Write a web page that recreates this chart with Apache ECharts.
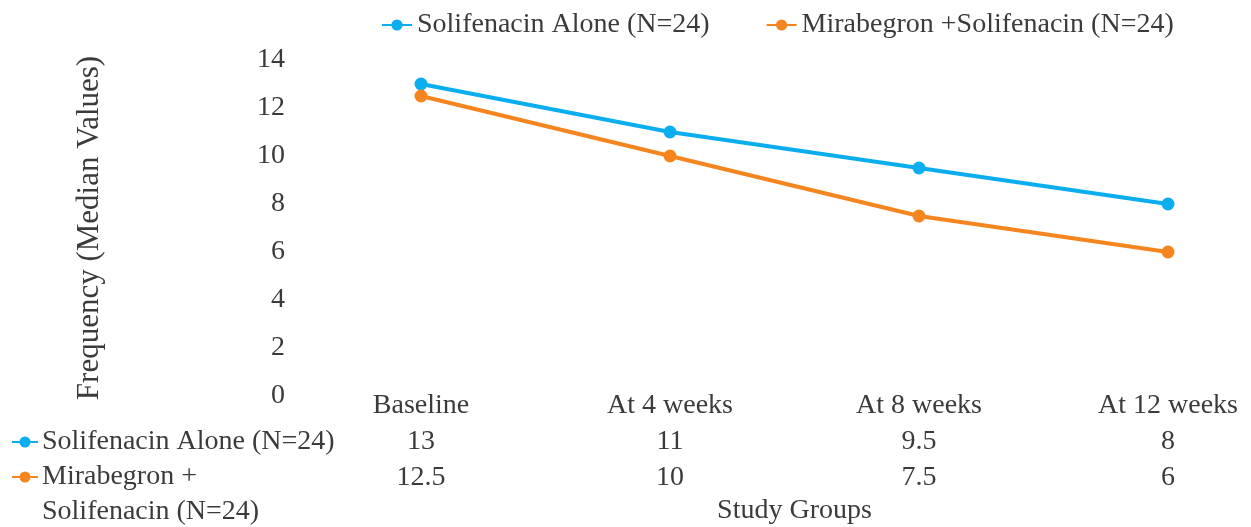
<!DOCTYPE html>
<html>
<head>
<meta charset="utf-8">
<script src="https://cdn.jsdelivr.net/npm/echarts@6/dist/echarts.min.js"></script>
<style>
  html, body { margin: 0; padding: 0; background: #fff; }
  #chart { width: 1251px; height: 527px; }
</style>
</head>
<body>
<div id="chart"></div>
<script>
// Study time points (x categories)
const categories = ['Baseline', 'At 4 weeks', 'At 8 weeks', 'At 12 weeks'];
// Median frequency per group
const soliAlone = [13, 11, 9.5, 8];
const miraSoli = [12.5, 10, 7.5, 6];
// Series names and their labels in the data table
const seriesNames = ['Solifenacin Alone (N=24)', 'Mirabegron +Solifenacin (N=24)'];
const tableRowLabels = [['Solifenacin Alone (N=24)'], ['Mirabegron +', 'Solifenacin (N=24)']];
// Y axis range
const yMin = 0, yMax = 14, yStep = 2;

const FONT = '"Liberation Serif", "DejaVu Serif", serif';
const TEXT = '#3b3b3b';
const BLUE = '#0aaeef';
const ORANGE = '#f5861f';
const colors = [BLUE, ORANGE];

const chart = echarts.init(document.getElementById('chart'), null, { renderer: 'canvas' });

// Row headers of the data table: legend key + wrapped label
const rowGraphics = [];
let rowY = 442;
tableRowLabels.forEach((lines, i) => {
  rowGraphics.push({
    type: 'line', x: 12, y: rowY,
    shape: { x1: 0, y1: 0, x2: 26, y2: 0 },
    style: { stroke: colors[i], lineWidth: 2 }
  });
  rowGraphics.push({
    type: 'circle', x: 25, y: rowY,
    shape: { cx: 0, cy: 0, r: 5.5 },
    style: { fill: colors[i] }
  });
  lines.forEach((ln) => {
    rowGraphics.push({
      type: 'text', x: 42, y: rowY,
      style: { text: ln, font: '28px ' + FONT, fill: TEXT, verticalAlign: 'middle' }
    });
    rowY += 35;
  });
});

chart.setOption({
  animation: false,
  textStyle: { fontFamily: FONT, color: TEXT },
  color: colors,
  legend: {
    data: seriesNames,
    left: 376,
    top: 6,
    itemWidth: 30,
    itemHeight: 14,
    itemGap: 56,
    textStyle: { fontFamily: FONT, fontSize: 28, color: TEXT }
  },
  grid: {
    left: 421, right: 83, top: 60, bottom: 131,
    containLabel: false,
    outerBoundsMode: 'none'
  },
  xAxis: {
    type: 'category',
    data: categories,
    boundaryGap: false,
    axisLine: { show: false },
    axisTick: { show: false },
    name: 'Study Groups',
    nameLocation: 'middle',
    nameGap: 89,
    nameTextStyle: { fontFamily: FONT, fontSize: 28, color: TEXT },
    axisLabel: {
      interval: 0,
      margin: -8,
      color: TEXT,
      formatter: (value, idx) =>
        '{c|' + value + '}\n{v|' + soliAlone[idx] + '}\n{v|' + miraSoli[idx] + '}',
      rich: {
        c: { fontFamily: FONT, fontSize: 28, lineHeight: 36, color: TEXT },
        v: { fontFamily: FONT, fontSize: 28, lineHeight: 36, color: TEXT }
      }
    }
  },
  yAxis: {
    type: 'value',
    min: yMin,
    max: yMax,
    interval: yStep,
    splitLine: { show: false },
    axisLine: { show: false },
    axisTick: { show: false },
    axisLabel: { margin: 136, fontFamily: FONT, fontSize: 28, color: TEXT },
    name: 'Frequency (Median Values)',
    nameLocation: 'middle',
    nameGap: 316,
    nameTextStyle: { fontFamily: FONT, fontSize: 31, color: TEXT }
  },
  series: [
    {
      name: seriesNames[0], type: 'line', data: soliAlone,
      symbol: 'circle', symbolSize: 13,
      lineStyle: { width: 4, color: BLUE }, itemStyle: { color: BLUE }
    },
    {
      name: seriesNames[1], type: 'line', data: miraSoli,
      symbol: 'circle', symbolSize: 13,
      lineStyle: { width: 4, color: ORANGE }, itemStyle: { color: ORANGE }
    }
  ],
  graphic: rowGraphics
});
</script>
</body>
</html>
